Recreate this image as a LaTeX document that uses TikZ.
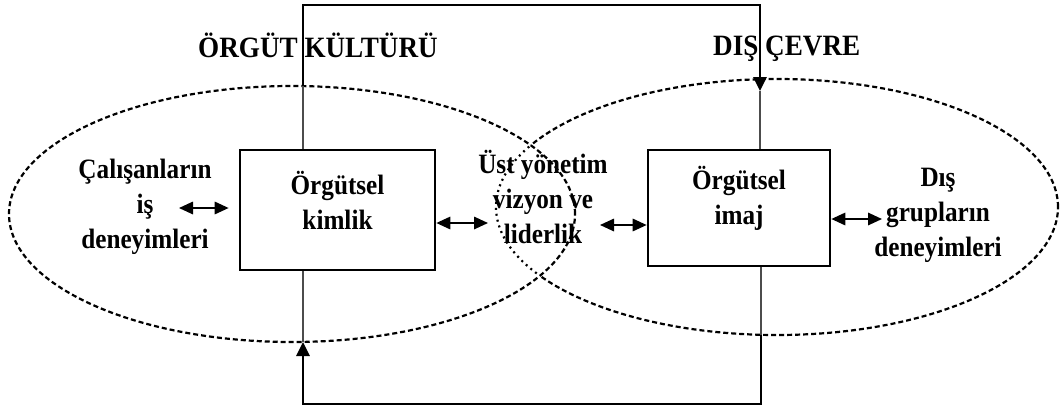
\documentclass[tikz,border=0pt]{standalone}
\usepackage{fontspec}
\setmainfont{Liberation Serif}
\newfontfamily\bodyfont[FakeStretch=0.9]{Liberation Serif}
\newfontfamily\headfont[FakeStretch=0.92]{Liberation Serif}
\usetikzlibrary{arrows.meta}

\begin{document}
\begin{tikzpicture}[x=1pt,y=-1pt,
  lbl/.style={font=\bodyfont\bfseries\fontsize{28}{35}\selectfont, align=center, inner sep=0pt},
  head/.style={font=\headfont\bfseries\fontsize{29.5}{34}\selectfont, inner sep=0pt},
  box/.style={draw, line width=2.7pt, inner sep=0pt},
  frame/.style={line width=2.9pt, line join=miter},
  thinline/.style={line width=1.1pt, black!70},
  dashline/.style={line width=2.2pt, dash pattern=on 5pt off 3pt},
  dotline/.style={line width=2.2pt, dash pattern=on 2pt off 4pt},
  dbl/.style={line width=1.7pt, {Triangle[length=14pt,width=12.5pt]}-{Triangle[length=14pt,width=12.5pt]}},
  uparrow/.style={-{Triangle[length=14pt,width=13pt]}}
]
\useasboundingbox (0,0) rectangle (1063,410);

% culture ellipse (left) and environment ellipse (right)
\draw[dashline] (292,214) ellipse [x radius=283pt, y radius=128pt];
\begin{scope}
  \clip (292,214) ellipse [x radius=283pt, y radius=128pt];
  \draw[dotline] (777,207) ellipse [x radius=281pt, y radius=128pt];
\end{scope}
\begin{scope}[even odd rule]
  \clip (-10,-10) rectangle (1073,420)
        (292,214) ellipse [x radius=283pt, y radius=128pt];
  \draw[dashline] (777,207) ellipse [x radius=281pt, y radius=128pt];
\end{scope}

% headings
\node[head, anchor=base west] (kultur) at (198,57) {ÖRGÜT KÜLTÜRÜ};
\node[head, anchor=base west] (cevre) at (713,55) {DIŞ ÇEVRE};

% boxes
\node[box, minimum width=195pt, minimum height=120pt] (lbox) at (337.5,210) {};
\node[box, minimum width=182pt, minimum height=116pt] (rbox) at (739,208) {};
\node[lbl] (lboxtxt) at (337.5,200) {Örgütsel\\kimlik};
\node[lbl] (rboxtxt) at (739,198) {Örgütsel\\imaj};

% free-standing texts
\node[lbl] (emp) at (145,207) {Çalışanların\\iş\\deneyimleri};
\node[lbl] (lid) at (543,197) {Üst yönetim\\vizyon ve\\liderlik};
\node[lbl] (ext) at (938,215) {Dış\\grupların\\deneyimleri};

% double-headed links
\coordinate (a1) at (179,208);
\coordinate (a2) at (488,223);
\coordinate (a3) at (600,225);
\coordinate (a4) at (882,219);
\draw[dbl, shorten >=10pt] (a1) -- (a1 -| lbox.west);
\draw[dbl] (lbox.east |- a2) -- (a2);
\draw[dbl] (a3) -- (a3 -| rbox.west);
\draw[dbl] (rbox.east |- a4) -- (a4);

% feedback frame
\coordinate (lt) at (303,86);
\coordinate (rtop) at (760,5);
\coordinate (rtip) at (760,91);
\coordinate (rb) at (761,335);
\coordinate (bl) at (303,404);
\coordinate (lb) at (303,342);
\draw[frame, uparrow] (lt) |- (rtop) -- (rtip);
\draw[thinline] (lt) -- (lbox.north -| lt);
\draw[thinline] (rtip) -- (rbox.north -| rtip);
\draw[frame, uparrow] (rb) |- (bl) -- (lb);
\draw[thinline] (rbox.south -| rb) -- (rb);
\draw[thinline] (lb) -- (lbox.south -| lb);
\end{tikzpicture}
\end{document}
